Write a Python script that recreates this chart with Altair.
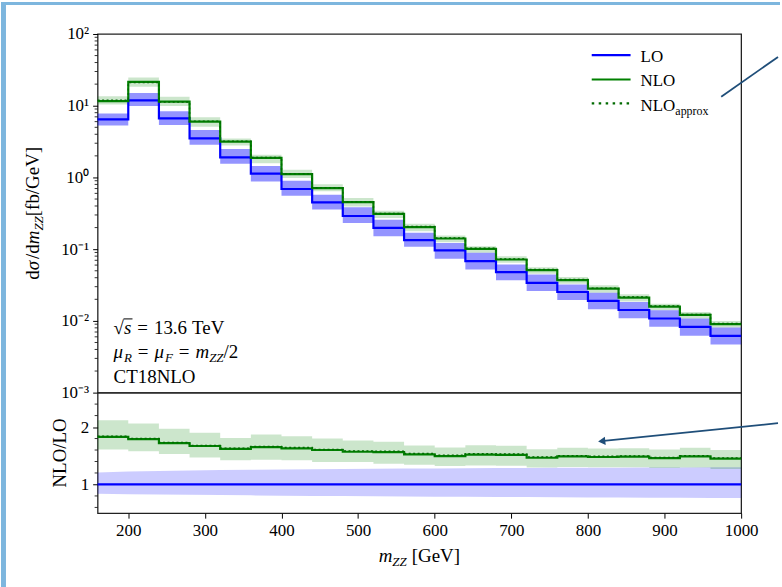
import altair as alt
import pandas as pd

# ---------------- data ----------------
edges = [160, 200, 240, 280, 320, 360, 400, 440, 480, 520, 560, 600,
         640, 680, 720, 760, 800, 840, 880, 920, 960, 1000]

lo = [6.45, 11.9, 6.66, 3.5, 1.9, 1.13, 0.69, 0.45, 0.29, 0.198, 0.134, 0.096,
      0.068, 0.048, 0.034, 0.0253, 0.019, 0.0142, 0.0108, 0.00826, 0.0062]
lo_up = [7.8, 15.1, 8.4, 4.6, 2.5, 1.45, 0.90, 0.574, 0.383, 0.258, 0.169, 0.122,
         0.089, 0.061, 0.0445, 0.0323, 0.0247, 0.0184, 0.0141, 0.0108, 0.0081]
lo_dn = [5.3, 9.9, 5.4, 2.85, 1.55, 0.88, 0.557, 0.356, 0.232, 0.152, 0.108, 0.0735,
         0.052, 0.037, 0.0261, 0.0196, 0.0145, 0.0109, 0.00826, 0.0062, 0.0047]

nlo = [11.6, 21.5, 11.4, 6.0, 3.16, 1.88, 1.11, 0.711, 0.454, 0.31, 0.203, 0.141,
       0.101, 0.0718, 0.051, 0.037, 0.0281, 0.0211, 0.0158, 0.0121, 0.0090]
nlo_up = [13.6, 24.7, 13.3, 6.9, 3.5, 2.07, 1.28, 0.807, 0.516, 0.344, 0.227, 0.155,
          0.110, 0.080, 0.056, 0.041, 0.0313, 0.0235, 0.0174, 0.0133, 0.010]
nlo_dn = [10.4, 18.4, 9.9, 5.1, 2.8, 1.58, 0.98, 0.64, 0.395, 0.272, 0.178, 0.125,
          0.089, 0.0646, 0.0454, 0.033, 0.0247, 0.0186, 0.0141, 0.0108, 0.0081]
nlo_approx = [11.9, 21.0, 11.3, 6.1, 3.2, 1.9, 1.13, 0.72, 0.46, 0.315, 0.207, 0.143,
              0.103, 0.073, 0.052, 0.0377, 0.0286, 0.0215, 0.0161, 0.0123, 0.0092]

ratio_nlo = [1.83, 1.79, 1.72, 1.67, 1.62, 1.65, 1.63, 1.60, 1.57, 1.565, 1.525, 1.495,
             1.52, 1.515, 1.465, 1.49, 1.478, 1.485, 1.46, 1.49, 1.45]
ratio_nlo_up = [2.12, 2.06, 1.97, 1.90, 1.81, 1.87, 1.84, 1.80, 1.765, 1.745, 1.68, 1.645,
                1.685, 1.675, 1.615, 1.64, 1.625, 1.63, 1.61, 1.64, 1.60]
ratio_nlo_dn = [1.61, 1.58, 1.53, 1.47, 1.42, 1.43, 1.42, 1.39, 1.39, 1.36, 1.345, 1.32,
                1.33, 1.325, 1.295, 1.305, 1.30, 1.30, 1.285, 1.295, 1.27]
ratio_approx = [1.84, 1.80, 1.73, 1.68, 1.63, 1.66, 1.645, 1.61, 1.585, 1.58, 1.54, 1.51,
                1.535, 1.53, 1.48, 1.50, 1.49, 1.495, 1.47, 1.50, 1.46]
ratio_lo = [1.0] * 22
ratio_lo_up = [1.21, 1.225, 1.235, 1.245, 1.25, 1.255, 1.26, 1.265, 1.27, 1.275, 1.278,
               1.28, 1.283, 1.285, 1.287, 1.29, 1.29, 1.292, 1.295, 1.297, 1.30, 1.30]
ratio_lo_dn = [0.84, 0.83, 0.825, 0.82, 0.815, 0.81, 0.805, 0.80, 0.798, 0.795, 0.79,
               0.788, 0.785, 0.783, 0.78, 0.778, 0.775, 0.773, 0.77, 0.768, 0.765, 0.762]

ytick_vals = [0.001, 0.01, 0.1, 1, 10, 100]
ytick_text = ["10⁻³", "10⁻²", "10⁻¹", "10⁰", "10¹", "10²"]
ylog_minor = [2e-3, 3e-3, 4e-3, 5e-3, 6e-3, 7e-3, 8e-3, 9e-3,
              2e-2, 3e-2, 4e-2, 5e-2, 6e-2, 7e-2, 8e-2, 9e-2,
              0.2, 0.3, 0.4, 0.5, 0.6, 0.7, 0.8, 0.9,
              2, 3, 4, 5, 6, 7, 8, 9, 20, 30, 40, 50, 60, 70, 80, 90]
xtick_vals = [200, 300, 400, 500, 600, 700, 800, 900, 1000]
rtick_vals = [1, 2]
rtick_minor = [0.6, 0.8, 1.2, 1.4, 1.6, 1.8, 2.2, 2.4]

# ---------------- styling ----------------
FONT = "Liberation Serif"
W_PLOT, H_TOP, H_BOT = 646, 360, 121
BLUE, GREEN, DGREEN, NAVY = "#0000ff", "#008000", "#006a00", "#1f4e79"
STRIP = "#7db6de"


def pad(v):
    return list(v) + [v[-1]]


top_df = pd.DataFrame({"m": edges, "lo": pad(lo), "lo_up": pad(lo_up), "lo_dn": pad(lo_dn),
                       "nlo": pad(nlo), "nlo_up": pad(nlo_up), "nlo_dn": pad(nlo_dn),
                       "ap": pad(nlo_approx)})
bot_df = pd.DataFrame({"m": edges, "one": ratio_lo, "r": pad(ratio_nlo),
                       "r_up": pad(ratio_nlo_up), "r_dn": pad(ratio_nlo_dn),
                       "r_ap": pad(ratio_approx), "lb_up": ratio_lo_up, "lb_dn": ratio_lo_dn})
one = pd.DataFrame({"k": [0]})

xs = alt.Scale(domain=[160, 1000], nice=False, zero=False)
ys_top = alt.Scale(type="log", domain=[1e-3, 1e2], nice=False)
ys_bot = alt.Scale(domain=[0.5, 2.6], nice=False, zero=False)

AX = dict(labelFont=FONT, labelFontSize=17, labelColor="black", tickColor="black",
          tickWidth=1, tickSize=5, labelPadding=4, labelFlush=False, labelOverlap=False,
          domain=False, grid=False, title=None)
lab_expr = " : ".join(
    f"abs(datum.value - {v}) < {v * 0.01} ? '{t}'" for v, t in zip(ytick_vals, ytick_text)) + " : ''"
ax_top = alt.Axis(values=ytick_vals, labelExpr=lab_expr, **AX)
ax_bot_y = alt.Axis(values=rtick_vals, format="d", **AX)
ax_bot_x = alt.Axis(values=xtick_vals, format="d", **AX)

XT = alt.X("m:Q", scale=xs, axis=None)
XB = alt.X("m:Q", scale=xs, axis=ax_bot_x)


def YT(f):
    return alt.Y(f, scale=ys_top, axis=ax_top)


def YB(f):
    return alt.Y(f, scale=ys_bot, axis=ax_bot_y)


# text-run helper (for subscripts / italics); a piece with text None is a gap
WR = {" ": .25, "=": .564, ".": .25, "/": .278, "[": .333, "]": .333, "C": .667, "T": .611,
      "N": .722, "L": .611, "O": .722, "G": .722, "V": .722, "e": .444, "f": .333, "b": .5,
      "d": .5, "a": .444, "p": .5, "r": .333, "o": .5, "x": .5, "√": .549, "σ": .55}
WI = {"m": .722, "s": .389, "Z": .556, "R": .611, "F": .611, "μ": .55, "σ": .6}


def tw(s, size, it):
    return sum((WI if it else WR).get(c, WR.get(c, .5)) for c in s) * size


def run(pieces, x0, y0, angle=0, color="black"):
    layers = []
    adv = 0.0
    for text, size, it, shift in pieces:
        if text is None:
            adv += size
            continue
        if angle == 0:
            x, y = x0 + adv, y0 + shift
        else:
            x, y = x0 + shift, y0 - adv
        layers.append(alt.Chart(one).mark_text(
            text=text, font=FONT, fontSize=size, fontStyle="italic" if it else "normal",
            align="left", baseline="alphabetic", angle=angle, color=color
        ).encode(x=alt.value(x), y=alt.value(y)))
        adv += tw(text, size, it)
    return layers, adv


GAP = (None, 6, False, 0)

# ---------------- top panel ----------------
bt = alt.Chart(top_df)
top_layers = [
    bt.mark_area(interpolate="step-after", color=GREEN, opacity=0.2).encode(
        x=XT, y=YT("nlo_dn:Q"), y2="nlo_up:Q"),
    bt.mark_area(interpolate="step-after", color=BLUE, opacity=0.42).encode(
        x=XT, y=YT("lo_dn:Q"), y2="lo_up:Q"),
    bt.mark_line(interpolate="step-after", color=BLUE, strokeWidth=2.2).encode(
        x=XT, y=YT("lo:Q")),
    bt.mark_line(interpolate="step-after", color=GREEN, strokeWidth=2.2).encode(
        x=XT, y=YT("nlo:Q")),
    bt.mark_line(interpolate="step-after", color=DGREEN, strokeWidth=1.5,
                 strokeDash=[2, 2.5]).encode(x=XT, y=YT("ap:Q")),
    alt.Chart(pd.DataFrame({"t": ylog_minor})).mark_rule(color="black", strokeWidth=0.8).encode(
        x=alt.value(-3), x2=alt.value(0), y=YT("t:Q")),
]

# legend
leg_y = [21.3, 45.7, 69.7]
top_layers += [
    alt.Chart(one).mark_rule(color=BLUE, strokeWidth=2.2).encode(
        x=alt.value(496), x2=alt.value(535), y=alt.value(leg_y[0])),
    alt.Chart(one).mark_rule(color=GREEN, strokeWidth=2.2).encode(
        x=alt.value(496), x2=alt.value(535), y=alt.value(leg_y[1])),
    alt.Chart(one).mark_rule(color=DGREEN, strokeWidth=2.2, strokeDash=[2.5, 4.5]).encode(
        x=alt.value(496), x2=alt.value(535), y=alt.value(leg_y[2])),
]
for pieces, yb in [([("LO", 17, False, 0)], 28),
                   ([("NLO", 17, False, 0)], 52.5),
                   ([("NLO", 17, False, 0), ("approx", 12, False, 4)], 77)]:
    top_layers += run(pieces, 545, yb)[0]

# info text
top_layers += run([("√", 19, False, 0), ("s", 19, True, 0), GAP, ("=", 19, False, 0), GAP,
                   ("13.6", 19, False, 0), (None, 5, False, 0), ("TeV", 19, False, 0)], 16, 301)[0]
top_layers += run([("μ", 19, True, 0), ("R", 13, True, 4), GAP, ("=", 19, False, 0), GAP,
                   ("μ", 19, True, 0), ("F", 13, True, 4), GAP, ("=", 19, False, 0), GAP,
                   ("m", 19, True, 0), ("ZZ", 13, True, 4), ("/2", 19, False, 0)], 16, 325)[0]
top_layers += run([("CT18NLO", 19, False, 0)], 16, 350)[0]
# overline of sqrt
top_layers.append(alt.Chart(one).mark_rule(color="black", strokeWidth=1).encode(
    x=alt.value(16 + 10), x2=alt.value(16 + 19), y=alt.value(286), y2=alt.value(286)))

# y title (rotated)
ytitle = [("d", 19, False, 0), ("σ", 19, True, 0), ("/d", 19, False, 0), ("m", 19, True, 0),
          ("ZZ", 13, True, 4), ("[fb/GeV]", 19, False, 0)]
_, L = run(ytitle, 0, 0)
top_layers += run(ytitle, -59, H_TOP / 2 + L / 2, angle=270)[0]

# annotation arrow to legend
top_layers.append(alt.Chart(one).mark_rule(color=NAVY, strokeWidth=1.8).encode(
    x=alt.value(683), x2=alt.value(626), y=alt.value(23), y2=alt.value(63)))

# screenshot border strips
top_layers += [
    alt.Chart(one).mark_rect(color=STRIP).encode(
        x=alt.value(-97), x2=alt.value(-92), y=alt.value(-32), y2=alt.value(555)),
    alt.Chart(one).mark_rect(color=STRIP).encode(
        x=alt.value(-97), x2=alt.value(685), y=alt.value(-32), y2=alt.value(-29)),
]

top = alt.layer(*top_layers).properties(width=W_PLOT, height=H_TOP)

# ---------------- bottom panel ----------------
bb = alt.Chart(bot_df)
bot_layers = [
    bb.mark_area(color=BLUE, opacity=0.2).encode(x=XB, y=YB("lb_dn:Q"), y2="lb_up:Q"),
    bb.mark_area(interpolate="step-after", color=GREEN, opacity=0.2).encode(
        x=XB, y=YB("r_dn:Q"), y2="r_up:Q"),
    bb.mark_line(color=BLUE, strokeWidth=2.2).encode(x=XB, y=YB("one:Q")),
    bb.mark_line(interpolate="step-after", color=GREEN, strokeWidth=2.2).encode(
        x=XB, y=YB("r:Q")),
    bb.mark_line(interpolate="step-after", color=DGREEN, strokeWidth=1.5,
                 strokeDash=[2, 2.5]).encode(x=XB, y=YB("r_ap:Q")),
    alt.Chart(pd.DataFrame({"t": rtick_minor})).mark_rule(color="black", strokeWidth=0.8).encode(
        x=alt.value(-3), x2=alt.value(0), y=YB("t:Q")),
    alt.Chart(one).mark_text(text="NLO/LO", font=FONT, fontSize=19, angle=270, align="center",
                             baseline="alphabetic", color="black").encode(
        x=alt.value(-32), y=alt.value(H_BOT / 2)),
    # annotation arrow to ratio curve
    alt.Chart(one).mark_rule(color=NAVY, strokeWidth=1.8).encode(
        x=alt.value(683), x2=alt.value(508), y=alt.value(30.7), y2=alt.value(48.5)),
    alt.Chart(one).mark_point(shape="triangle-left", filled=True, color=NAVY, opacity=1,
                              size=70, angle=354).encode(x=alt.value(506), y=alt.value(48.8)),
    # pin for the full page size
    alt.Chart(one).mark_rule(color="white", strokeWidth=1, opacity=0.01).encode(
        x=alt.value(684), x2=alt.value(685), y=alt.value(194), y2=alt.value(195)),
]
xtitle = [("m", 19, True, 0), ("ZZ", 13, True, 4), (None, 5, False, 0), ("[GeV]", 19, False, 0)]
_, LX = run(xtitle, 0, 0)
bot_layers += run(xtitle, W_PLOT / 2 - LX / 2, 170)[0]

bottom = alt.layer(*bot_layers).properties(width=W_PLOT, height=H_BOT)

chart = alt.vconcat(top, bottom, spacing=0, bounds="flush").properties(
    padding=0, background="white"
).configure_view(stroke="#222222", strokeWidth=1.3).configure_axis(
    labelFont=FONT, labelFontSize=17, labelColor="black", tickColor="black", tickWidth=1,
    domain=False, grid=False
)

chart.save("out.html", embed_options={"renderer": "svg", "actions": False})
